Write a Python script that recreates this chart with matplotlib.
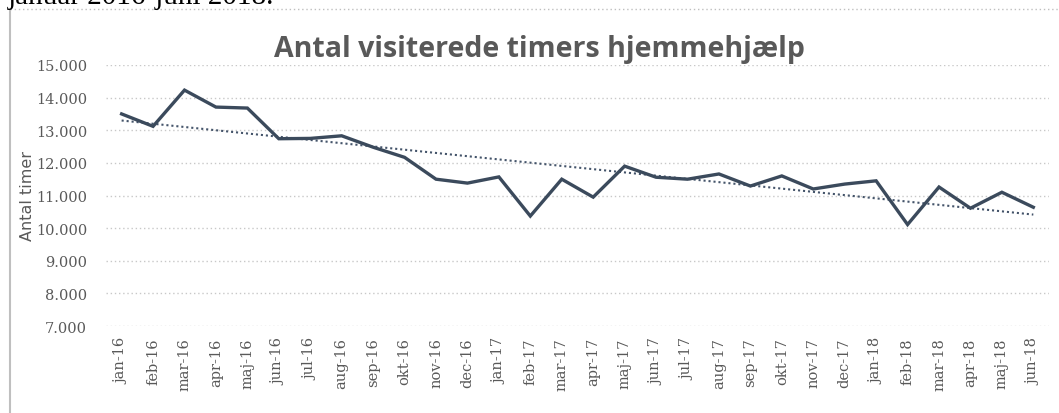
import numpy as np
import matplotlib
matplotlib.use("Agg")
import matplotlib.pyplot as plt
from matplotlib.lines import Line2D

months = ['jan-16', 'feb-16', 'mar-16', 'apr-16', 'maj-16', 'jun-16', 'jul-16', 'aug-16',
          'sep-16', 'okt-16', 'nov-16', 'dec-16', 'jan-17', 'feb-17', 'mar-17', 'apr-17',
          'maj-17', 'jun-17', 'jul-17', 'aug-17', 'sep-17', 'okt-17', 'nov-17', 'dec-17',
          'jan-18', 'feb-18', 'mar-18', 'apr-18', 'maj-18', 'jun-18']
timer = [13500, 13120, 14230, 13710, 13680, 12740, 12750, 12830,
         12480, 12170, 11500, 11380, 11570, 10370, 11500, 10950,
         11900, 11560, 11500, 11660, 11290, 11600, 11200, 11350,
         11450, 10110, 11260, 10610, 11100, 10640]
yticks = [7000, 8000, 9000, 10000, 11000, 12000, 13000, 14000, 15000]
ytick_labels = ['7.000', '8.000', '9.000', '10.000', '11.000', '12.000', '13.000', '14.000', '15.000']

line_col = '#3b4a5c'
grey = '#595959'

fig = plt.figure(figsize=(10.59, 4.14), dpi=100)
ax = fig.add_axes([0.100, 0.2101, 0.8906, 0.6305])

x = np.arange(len(months))
ax.plot(x, timer, color=line_col, lw=2.4, solid_joinstyle='miter', zorder=3)

# lineær tendenslinje
k, m = np.polyfit(x, timer, 1)
ax.plot(x, k * x + m, color='#44546a', lw=1.5, ls=(0, (1, 1.4)), zorder=2)

ax.set_xlim(-0.5, len(months) - 0.5)
ax.set_ylim(7000, 15000)
ax.set_yticks(yticks)
ax.set_yticklabels(ytick_labels, family='DejaVu Serif', fontsize=10.5, color=grey)
ax.set_xticks(x)
ax.set_xticklabels(months, rotation=90, family='DejaVu Serif', fontsize=10.5, color=grey)
ax.tick_params(axis='y', length=0, pad=13.5)
ax.tick_params(axis='x', length=0, pad=8)
ax.grid(axis='y', color='#c8c8c8', ls=(0, (1, 2)), lw=1)
for s in ax.spines.values():
    s.set_visible(False)
ax.set_axisbelow(True)

fig.text(539.5 / 1059, 1 - 57 / 414, 'Antal visiterede timers hjemmehjælp', ha='center',
         va='baseline', family='Open Sans', fontweight='bold', fontsize=20.5, color=grey)
fig.text(28 / 1059, 1 - 196 / 414, 'Antal timer', rotation=90, ha='center', va='center',
         family='DejaVu Sans', fontsize=11.5, color=grey)

# dokumenttekst og rammen omkring diagrammet
fig.text(8 / 1059, 1 - 4 / 414, 'januar 2016-juni 2018.', ha='left', va='baseline',
         family='Liberation Serif', fontsize=21, color='black')
fig.add_artist(Line2D([10 / 1059, 1], [1 - 10 / 414, 1 - 10 / 414], color='#bfbfbf',
                      lw=1, ls=(0, (1, 2)), transform=fig.transFigure))
fig.add_artist(Line2D([10 / 1059, 10 / 1059], [0, 1 - 10 / 414], color='#bfbfbf',
                      lw=1.5, transform=fig.transFigure))

fig.savefig('out.png', dpi=100)
